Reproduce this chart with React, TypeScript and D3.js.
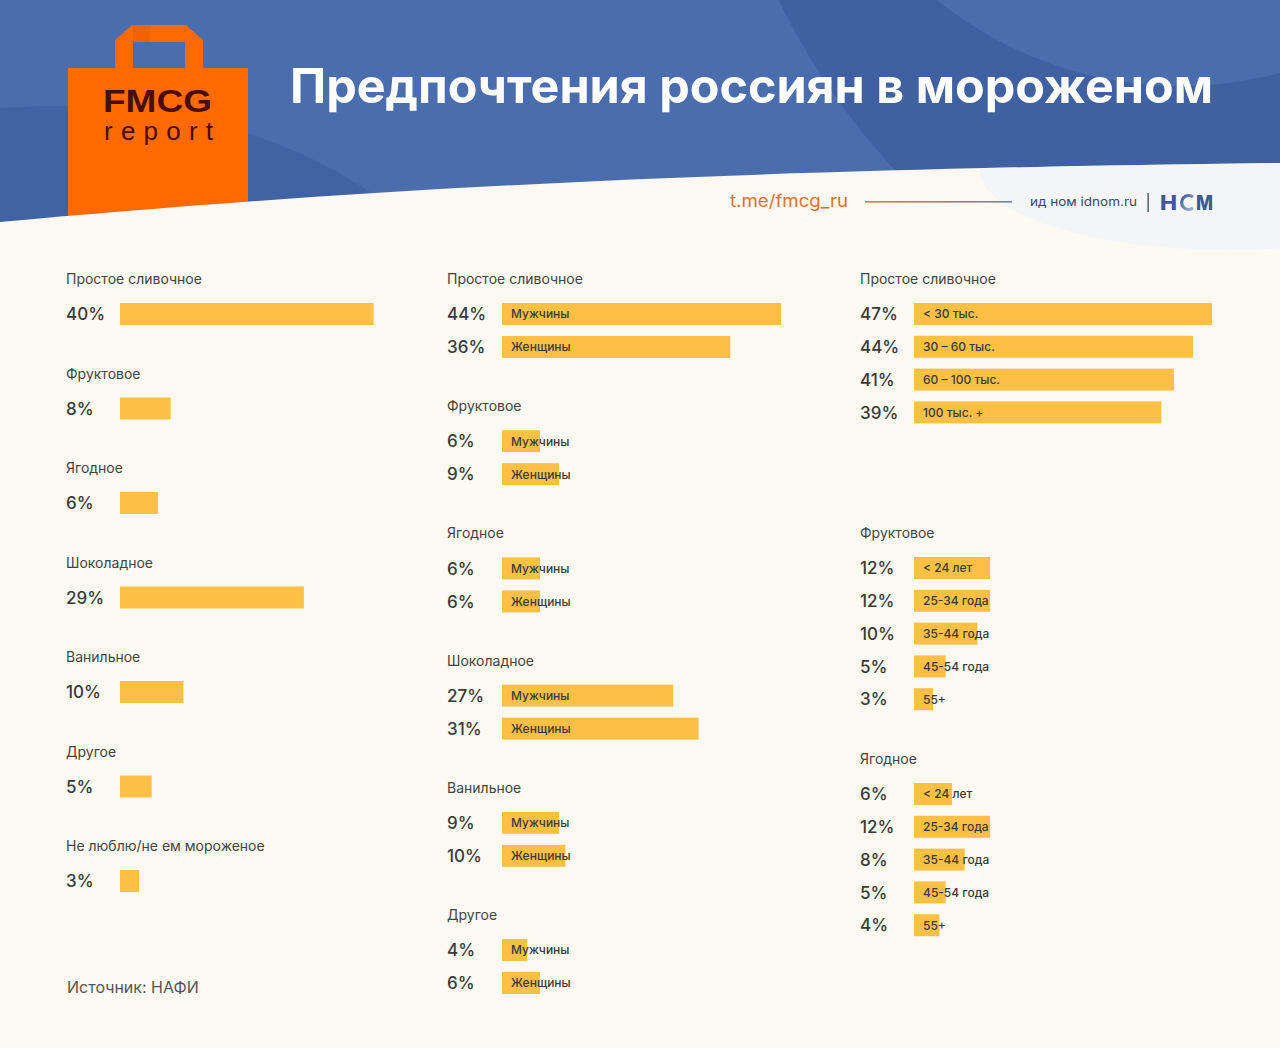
import React from 'react';
import * as d3 from 'd3';

// --- data ---
const overallCats = ['Простое сливочное', 'Фруктовое', 'Ягодное', 'Шоколадное', 'Ванильное', 'Другое', 'Не люблю/не ем мороженое'];
const overallVals = [40, 8, 6, 29, 10, 5, 3];

const genderCats = ['Простое сливочное', 'Фруктовое', 'Ягодное', 'Шоколадное', 'Ванильное', 'Другое'];
const genders = ['Мужчины', 'Женщины'];
const menVals = [44, 6, 6, 27, 9, 4];
const womenVals = [36, 9, 6, 31, 10, 6];

const incomeLabels = ['< 30 тыс.', '30 – 60 тыс.', '60 – 100 тыс.', '100 тыс. +'];
const incomeVals = [47, 44, 41, 39];

const ageLabels = ['< 24 лет', '25-34 года', '35-44 года', '45-54 года', '55+'];
const fruitAgeVals = [12, 12, 10, 5, 3];
const berryAgeVals = [6, 12, 8, 5, 4];

const rightTitles = ['Простое сливочное', 'Фруктовое', 'Ягодное'];

const TITLE = 'Предпочтения россиян в мороженом';
const SOURCE = 'Источник: НАФИ';

// --- style ---
const W = 1280;
const H = 1048;
const FONT = 'Inter, "Noto Sans", sans-serif';
const BAR = '#FCC144';
const CREAM = '#FCF9F3';
const BLUE = '#4A6DAE';
const BLUE_DARK = '#3F61A2';
const TXT = '#3a3a3a';
const BAR_H = 22;
const ROW = 32.8;
const CREAM_EDGE = 'M0,222 C350,190 700,170 1280,163 L1280,1048 L0,1048 Z';

const x = d3.scaleLinear().domain([0, 47]).range([0, 298]);

const Pct: React.FC<{ px: number; cy: number; v: number }> = ({ px, cy, v }) => (
  <text x={px} y={cy + 6.2} fontSize={17} fontWeight={500} fill={TXT}>{v}%</text>
);

const CatLabel: React.FC<{ px: number; cy: number; t: string }> = ({ px, cy, t }) => (
  <text x={px} y={cy + 5} fontSize={14} fill="#444">{t}</text>
);

const Bar: React.FC<{ bx: number; cy: number; v: number; label?: string }> = ({ bx, cy, v, label }) => (
  <g>
    <rect x={bx} y={cy - BAR_H / 2} width={x(v)} height={BAR_H} fill={BAR} />
    {label && (
      <text x={bx + 9} y={cy + 4.3} fontSize={12} fontWeight={500} fill={TXT}>{label}</text>
    )}
  </g>
);

export default function App() {
  // left column
  const yLeft = d3.scalePoint<string>().domain(overallCats).range([314, 881]);
  // middle column
  const yGroup = d3.scalePoint<string>().domain(genderCats).range([279, 915]);
  const ySub = d3.scalePoint<string>().domain(genders).range([0, 33]);
  // right column: section tops are layout
  const rightTops = [279, 533, 759];
  const rightSections = [
    { title: rightTitles[0], labels: incomeLabels, values: incomeVals },
    { title: rightTitles[1], labels: ageLabels, values: fruitAgeVals },
    { title: rightTitles[2], labels: ageLabels, values: berryAgeVals },
  ];

  const L = { cat: 66, bar: 120 };
  const M = { cat: 447, bar: 502 };
  const R = { cat: 860, bar: 914 };

  return (
    <div style={{ position: 'absolute', left: 0, top: 0, width: W, height: H }}>
      <svg width={W} height={H} viewBox={`0 0 ${W} ${H}`} style={{ display: 'block', fontFamily: FONT }}>
        <defs>
          <linearGradient id="rule" x1="0" x2="1" y1="0" y2="0">
            <stop offset="0%" stopColor="#E8772E" />
            <stop offset="100%" stopColor="#6D84B0" />
          </linearGradient>
          <linearGradient id="ogrd" x1="0" x2="1" y1="0" y2="1">
            <stop offset="0%" stopColor="#3D5A92" />
            <stop offset="100%" stopColor="#A9B8D4" />
          </linearGradient>
          <clipPath id="hdr">
            <rect x={0} y={0} width={W} height={240} />
          </clipPath>
          <clipPath id="cream">
            <path d={CREAM_EDGE} />
          </clipPath>
        </defs>

        {/* header background */}
        <rect x={0} y={0} width={W} height={H} fill={CREAM} />
        <g clipPath="url(#hdr)">
          <rect x={0} y={0} width={W} height={240} fill={BLUE} />
          <path d="M0,108 C140,100 300,118 430,240 L0,240 Z" fill={BLUE_DARK} opacity={0.85} />
          <circle cx={1400} cy={-300} r={690} fill={BLUE_DARK} />
          <circle cx={1180} cy={-300} r={386} fill={BLUE} />
        </g>

        {/* bag */}
        <g>
          <path d="M115,40 L132,25 L186,25 L203,40 L203,68 L185,68 L185,42 L133,42 L133,68 L115,68 Z" fill="#FF6A00" />
          <path d="M133,25 L150,25 L150,42 L133,42 Z" fill="#E85F00" opacity={0.6} />
          <rect x={68} y={68} width={180} height={160} fill="#FF6A00" />
          <text x={103} y={112} fontSize={32} fontWeight={700} fill="#4A0C0C" textLength={109} lengthAdjust="spacingAndGlyphs"
            style={{ fontFamily: '"Liberation Sans", Arial, sans-serif' }}>FMCG</text>
          <text x={104} y={140} fontSize={26} fill="#4A0C0C" textLength={109} lengthAdjust="spacing"
            style={{ fontFamily: '"Liberation Sans", Arial, sans-serif' }}>report</text>
        </g>

        {/* cream body with curved top */}
        <path d={CREAM_EDGE} fill={CREAM} />
        <g clipPath="url(#cream)">
          <ellipse cx={1230} cy={170} rx={250} ry={80} fill="#EEF2F8" opacity={0.6} />
        </g>

        {/* title */}
        <text x={290} y={103} fontSize={48} fontWeight={700} fill="#fff" textLength={923} lengthAdjust="spacingAndGlyphs">{TITLE}</text>

        {/* source line */}
        <text x={730} y={207} fontSize={17} fill="#E07030" textLength={118} lengthAdjust="spacingAndGlyphs">t.me/fmcg_ru</text>
        <rect x={865} y={201} width={147} height={1.6} fill="url(#rule)" />
        <text x={1030} y={206} fontSize={12} fill="#3A4A6A" textLength={107} lengthAdjust="spacingAndGlyphs">ид ном idnom.ru</text>
        <rect x={1147.5} y={193} width={1.3} height={19} fill="#3A4A6A" />
        <text x={1160} y={209.5} fontSize={20} fontWeight={800} fill="#3D5A92" textLength={17} lengthAdjust="spacingAndGlyphs">Н</text>
        <path d="M1193,197 A7,7 0 1 0 1193,208" fill="none" stroke="url(#ogrd)" strokeWidth={3.2} />
        <text x={1196} y={209.5} fontSize={20} fontWeight={800} fill="#3D5A92" textLength={17} lengthAdjust="spacingAndGlyphs">М</text>

        {/* left column: overall */}
        {overallCats.map((c, i) => {
          const cy = yLeft(c)!;
          return (
            <g key={c}>
              <CatLabel px={L.cat} cy={cy - 35} t={c} />
              <Pct px={L.cat} cy={cy} v={overallVals[i]} />
              <Bar bx={L.bar} cy={cy} v={overallVals[i]} />
            </g>
          );
        })}

        {/* middle column: by gender */}
        {genderCats.map((c, i) => {
          const top = yGroup(c)!;
          const vals = [menVals[i], womenVals[i]];
          return (
            <g key={c}>
              <CatLabel px={M.cat} cy={top} t={c} />
              {genders.map((g, k) => {
                const cy = top + 35 + ySub(g)!;
                return (
                  <g key={g}>
                    <Pct px={M.cat} cy={cy} v={vals[k]} />
                    <Bar bx={M.bar} cy={cy} v={vals[k]} label={g} />
                  </g>
                );
              })}
            </g>
          );
        })}

        {/* right column: by income / age */}
        {rightSections.map((s, si) => {
          const top = rightTops[si];
          return (
            <g key={si}>
              <CatLabel px={R.cat} cy={top} t={s.title} />
              {s.values.map((v, k) => {
                const cy = top + 35 + k * ROW;
                return (
                  <g key={k}>
                    <Pct px={R.cat} cy={cy} v={v} />
                    <Bar bx={R.bar} cy={cy} v={v} label={s.labels[k]} />
                  </g>
                );
              })}
            </g>
          );
        })}

        <text x={67} y={993} fontSize={16} fill="#555">{SOURCE}</text>
      </svg>
    </div>
  );
}
